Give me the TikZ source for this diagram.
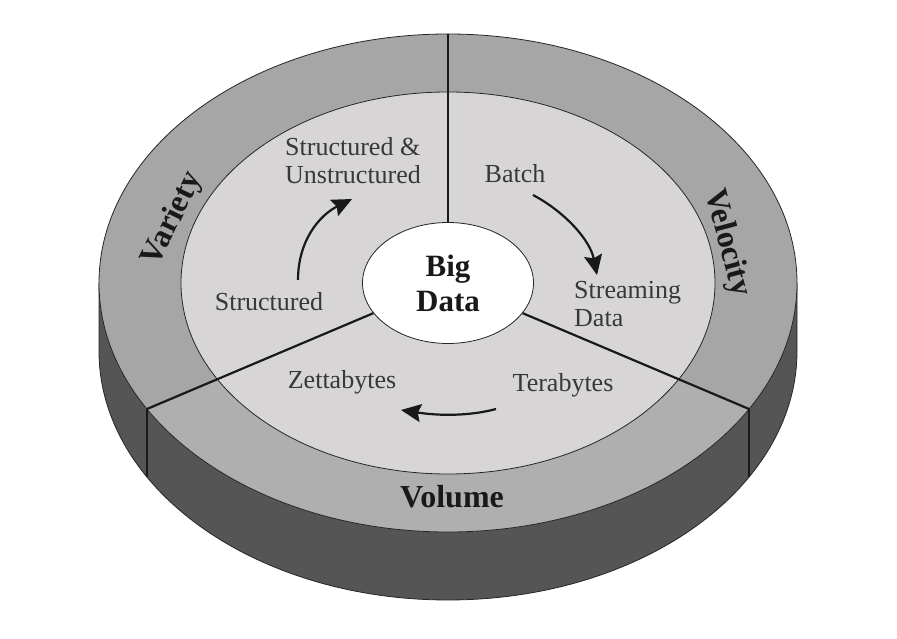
\documentclass[tikz,border=0pt]{standalone}
\usepackage{fontspec}
\setmainfont{Liberation Serif}
\usetikzlibrary{shapes.geometric,arrows.meta}
\definecolor{sidegray}{HTML}{555555}
\definecolor{ringgray}{HTML}{A7A6A6}
\definecolor{volgray}{HTML}{B0AFAF}
\definecolor{innergray}{HTML}{D7D5D5}
\definecolor{txtgray}{HTML}{383838}
\begin{document}
\begin{tikzpicture}[x=1pt,y=1pt,
  edge/.style={draw=black!85, line width=0.8pt},
  divider/.style={draw=black!90, line width=2.2pt},
  item/.style={text=txtgray, font=\fontsize{26}{28}\selectfont, inner sep=0pt},
  vlabel/.style={text=black!90, font=\fontsize{32}{36}\selectfont\bfseries, inner sep=0pt},
  flow/.style={line width=2.2pt, draw=black!90, -{Stealth[length=20pt,width=18pt,inset=3pt]}}]
\useasboundingbox (0,0) rectangle (897,638);
% centres
\coordinate (C) at (448,355);
\coordinate (B) at (448,287);
% points on the outer top ellipse and on the bottom ellipse
\coordinate (OT) at (448,604);
\coordinate (OL) at (147,229);
\coordinate (OR) at (749,229);
\coordinate (OLb) at (147,161);
\coordinate (ORb) at (749,161);
% side of the disk
\fill[sidegray] (99,355) -- (99,287) arc[start angle=180, end angle=360, x radius=349pt, y radius=249pt] -- (797,355) -- cycle;
\draw[edge] (99,355) -- (99,287) arc[start angle=180, end angle=360, x radius=349pt, y radius=249pt] -- (797,355);
% outer top ring
\fill[ringgray] (C) ellipse[x radius=349pt, y radius=249pt];
\fill[volgray] (C) -- (OL) arc[start angle=210.4, end angle=329.6, x radius=349pt, y radius=249pt] -- cycle;
\draw[edge] (C) ellipse[x radius=349pt, y radius=249pt];
% inner disk
\fill[innergray] (C) ellipse[x radius=267pt, y radius=191pt];
\draw[edge] (C) ellipse[x radius=267pt, y radius=191pt];
% centre
\node[ellipse, draw=black!85, line width=0.8pt, fill=white, minimum width=171pt, minimum height=121pt, inner sep=0pt,
      align=center, text=black!90, font=\fontsize{31}{35}\selectfont\bfseries] (big) at (C) {Big\\Data};
% dividers
\draw[divider] (OT) -- (big.north);
\draw[divider] (big.202.6) -- (OL);
\draw[divider] (big.-22.6) -- (OR);
\draw[divider] (OL) -- (OLb);
\draw[divider] (OR) -- (ORb);
% ring labels
\node[vlabel, rotate=64] (variety) at (173,419) {Variety};
\node[vlabel, rotate=-75] (velocity) at (727,395) {Velocity};
\node[vlabel] (volume) at (452,141) {Volume};
% items
\node[item, align=left, anchor=west] (su) at (285,477) {Structured \&\\Unstructured};
\node[item] (batch) at (515,464) {Batch};
\node[item] (structured) at (269,336) {Structured};
\node[item, align=left, anchor=west] (streaming) at (574,333.5) {Streaming\\Data};
\node[item] (zetta) at (342,256) {Zettabytes};
\node[item] (tera) at (563,253) {Terabytes};
% arrows
\coordinate (a1s) at (298,358);
\coordinate (a1e) at (352,439);
\coordinate (a2s) at (533,443);
\coordinate (a2e) at (597,363);
\coordinate (a3s) at (496,229);
\coordinate (a3e) at (401,228);
\draw[flow] (a1s) .. controls (298,398) and (320,423) .. (a1e);
\draw[flow] (a2s) .. controls (565,426) and (590,398) .. (a2e);
\draw[flow] (a3s) .. controls (470,222) and (440,222) .. (a3e);
\end{tikzpicture}
\end{document}
